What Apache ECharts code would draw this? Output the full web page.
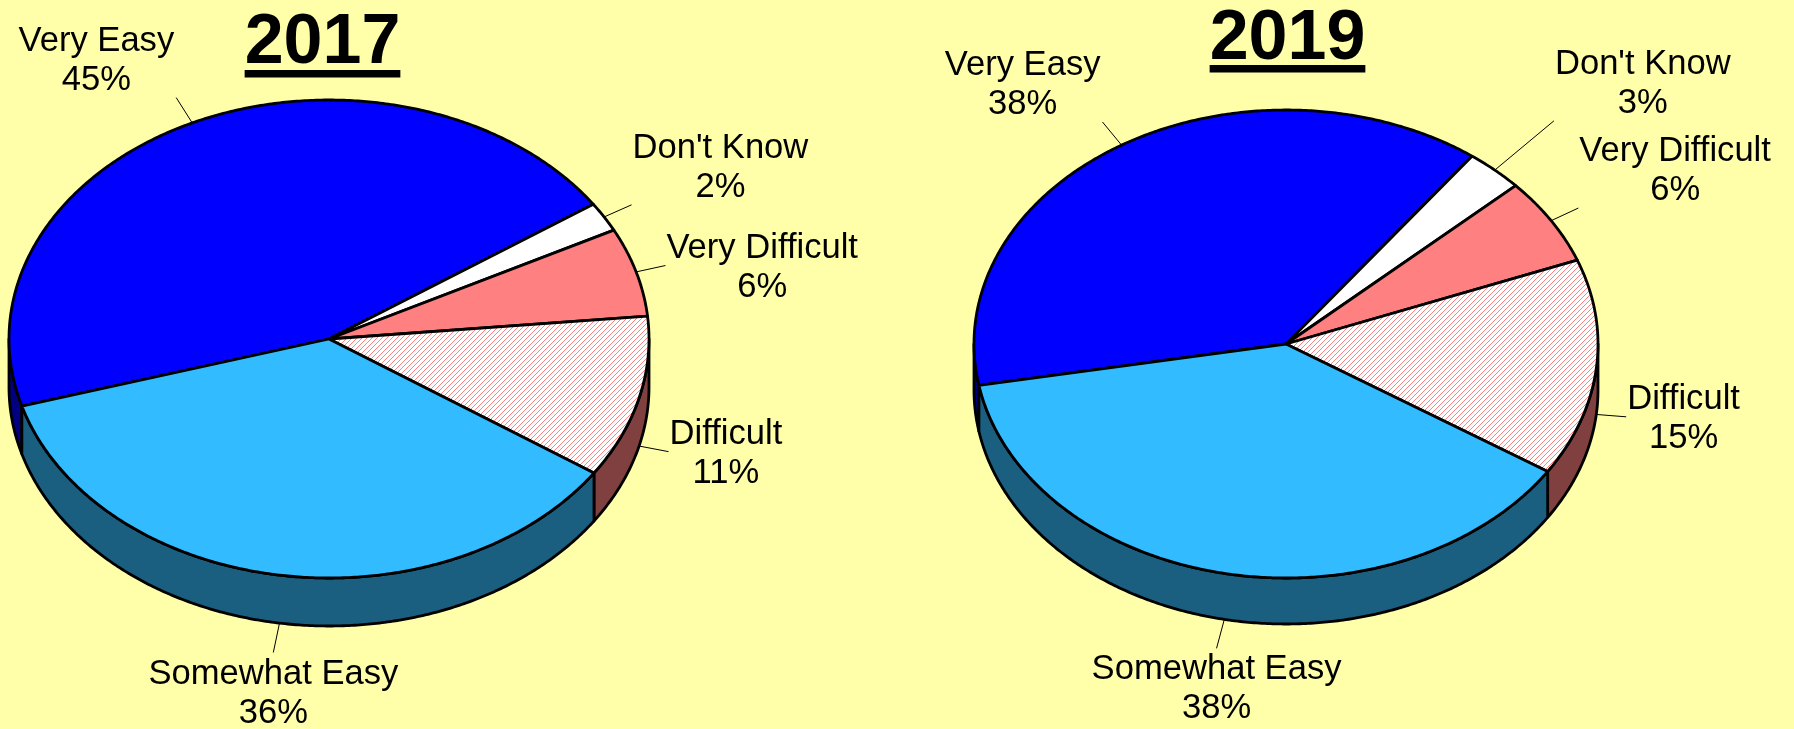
<!DOCTYPE html>
<html>
<head>
<meta charset="utf-8">
<title>Ease of access: 2017 vs 2019</title>
<script src="https://cdn.jsdelivr.net/npm/echarts@6/dist/echarts.min.js"></script>
<style>
  html, body { margin: 0; padding: 0; background: #FFFFAA; }
  #chart { width: 1794px; height: 729px; }
</style>
</head>
<body>
<div id="chart"></div>
<script>
// Answer categories, listed clockwise starting from the first slice
const categories = ['Very Easy', "Don't Know", 'Very Difficult', 'Difficult', 'Somewhat Easy'];
const years = ['2017', '2019'];
const share2017 = [45, 2, 6, 11, 36];
const share2019 = [38, 3, 6, 15, 38];

// Slice styling (top face / front wall)
const BG = '#FFFFAA';
const topColors = ['#0000FF', '#FFFFFF', '#FF8080', 'hatch', '#33BBFF'];
const sideColors = ['#000080', '#808080', '#804040', '#804040', '#1A5E80'];

// Pie geometry in px; angles are clockwise from 3 o'clock
const pies = [
  { year: years[0], data: share2017, cx: 329, cy: 339, rx: 320, ry: 239, depth: 48,
    startAngle: 163.7, titleX: 322.5, titleY: 44, underlineY: 70, leader: [30, 30, 30, 30, 30] },
  { year: years[1], data: share2019, cx: 1286, cy: 344, rx: 312, ry: 234, depth: 46,
    startAngle: 169.8, titleX: 1287.5, titleY: 40, underlineY: 65, leader: [30, 77, 30, 30, 30] }
];

const LABEL_SIZE = 34.6;
const LABEL_LINE = 39;
const LABEL_NUDGE_Y = 2;
const LABEL_FONT = LABEL_SIZE + 'px "Liberation Sans", Arial, sans-serif';
const TITLE_FONT = 'bold 70px "Liberation Sans", Arial, sans-serif';
const EDGE = { stroke: '#000', lineWidth: 2.8, lineJoin: 'round' };

const measureCtx = document.createElement('canvas').getContext('2d');
function textWidth(str, font) {
  measureCtx.font = font;
  return measureCtx.measureText(str).width;
}

// White tile with thin pink "/" hatching
function hatchPattern() {
  const n = 5;
  const c = document.createElement('canvas');
  c.width = n; c.height = n;
  const g = c.getContext('2d');
  g.fillStyle = '#FFFFFF';
  g.fillRect(0, 0, n, n);
  g.strokeStyle = '#FF8080';
  g.lineWidth = 1;
  [[-1, n + 1, n + 1, -1], [-1, 1, 1, -1], [n - 1, n + 1, n + 1, n - 1]].forEach(function (l) {
    g.beginPath(); g.moveTo(l[0], l[1]); g.lineTo(l[2], l[3]); g.stroke();
  });
  return { image: c, repeat: 'repeat' };
}
const HATCH = hatchPattern();
function topFill(i) { return topColors[i] === 'hatch' ? HATCH : topColors[i]; }

// Points along the pie rim between two angles, optionally shifted down
function arcPoints(p, a0, a1, dy, out) {
  const n = Math.max(2, Math.ceil(Math.abs(a1 - a0) / 0.5));
  for (let k = 0; k <= n; k++) {
    const t = (a0 + (a1 - a0) * k / n) * Math.PI / 180;
    out.push([p.cx + p.rx * Math.cos(t), p.cy + p.ry * Math.sin(t) + dy]);
  }
  return out;
}

function makeRenderItem(p) {
  const total = p.data.reduce(function (s, v) { return s + v; }, 0);
  const before = [];
  p.data.reduce(function (s, v, i) { before[i] = s; return s + v; }, 0);

  return function (params, api) {
    const i = params.dataIndex;
    const value = api.value(1);
    const a0 = p.startAngle + 360 * before[i] / total;
    const a1 = a0 + 360 * value / total;
    const children = [];

    // Front wall: the part of the slice's rim that faces the viewer
    for (let k = -1; k <= 2; k++) {
      const lo = Math.max(a0, k * 360);
      const hi = Math.min(a1, k * 360 + 180);
      if (hi > lo) {
        const pts = arcPoints(p, lo, hi, 0, []);
        arcPoints(p, hi, lo, p.depth, pts);
        children.push({
          type: 'polygon', z2: 1, shape: { points: pts },
          style: Object.assign({ fill: sideColors[i] }, EDGE)
        });
      }
    }

    // Top face
    const top = arcPoints(p, a0, a1, 0, [[p.cx, p.cy]]);
    children.push({
      type: 'polygon', z2: 5, shape: { points: top },
      style: Object.assign({ fill: topFill(i) }, EDGE)
    });

    // Leader line from the rim at the slice's mid angle
    const m = (a0 + a1) / 2 * Math.PI / 180;
    const c = Math.cos(m), s = Math.sin(m);
    const ax = p.cx + p.rx * c;
    const ay = p.cy + p.ry * s + (s > 0 ? p.depth : 0);
    let dx = c, dy = s * p.ry / p.rx;
    const len = Math.hypot(dx, dy);
    dx /= len; dy /= len;
    const ex = ax + dx * p.leader[i];
    const ey = ay + dy * p.leader[i];
    children.push({
      type: 'line', z2: 8, shape: { x1: ax, y1: ay, x2: ex, y2: ey },
      style: { stroke: '#000', lineWidth: 1 }
    });

    // Two-line label placed off the end of the leader
    const name = categories[i];
    const pct = value + '%';
    const halfW = Math.max(textWidth(name, LABEL_FONT), textWidth(pct, LABEL_FONT)) / 2;
    let tx = ex, ty = ey + LABEL_NUDGE_Y;
    if (dx > 0.5) tx = ex + 1 + halfW;
    else if (dx < -0.5) tx = ex - 2 - halfW;
    if (dy < -0.3) ty -= LABEL_LINE;
    else if (dy > 0.6) ty += LABEL_LINE;
    children.push({
      type: 'text', z2: 9,
      style: {
        text: name + '\n' + pct, x: tx, y: ty, font: LABEL_FONT,
        align: 'center', textAlign: 'center',
        verticalAlign: 'middle', textVerticalAlign: 'middle',
        lineHeight: LABEL_LINE, fill: '#000'
      }
    });

    return { type: 'group', children: children };
  };
}

// Underlined year headings
const headings = [];
pies.forEach(function (p) {
  const w = textWidth(p.year, TITLE_FONT);
  headings.push({
    type: 'text', z: 10,
    style: {
      text: p.year, x: p.titleX, y: p.titleY, font: TITLE_FONT,
      align: 'center', textAlign: 'center',
      verticalAlign: 'middle', textVerticalAlign: 'middle', fill: '#000'
    }
  });
  headings.push({
    type: 'rect', z: 10,
    shape: { x: p.titleX - w / 2, y: p.underlineY, width: w, height: 7.5 },
    style: { fill: '#000' }
  });
});

const chart = echarts.init(document.getElementById('chart'), null, { renderer: 'canvas' });
chart.setOption({
  backgroundColor: BG,
  animation: false,
  graphic: headings,
  series: pies.map(function (p) {
    return {
      type: 'custom',
      name: p.year,
      coordinateSystem: 'none',
      silent: true,
      renderItem: makeRenderItem(p),
      data: p.data.map(function (v, i) { return { name: categories[i], value: [i, v] }; })
    };
  })
});
</script>
</body>
</html>
